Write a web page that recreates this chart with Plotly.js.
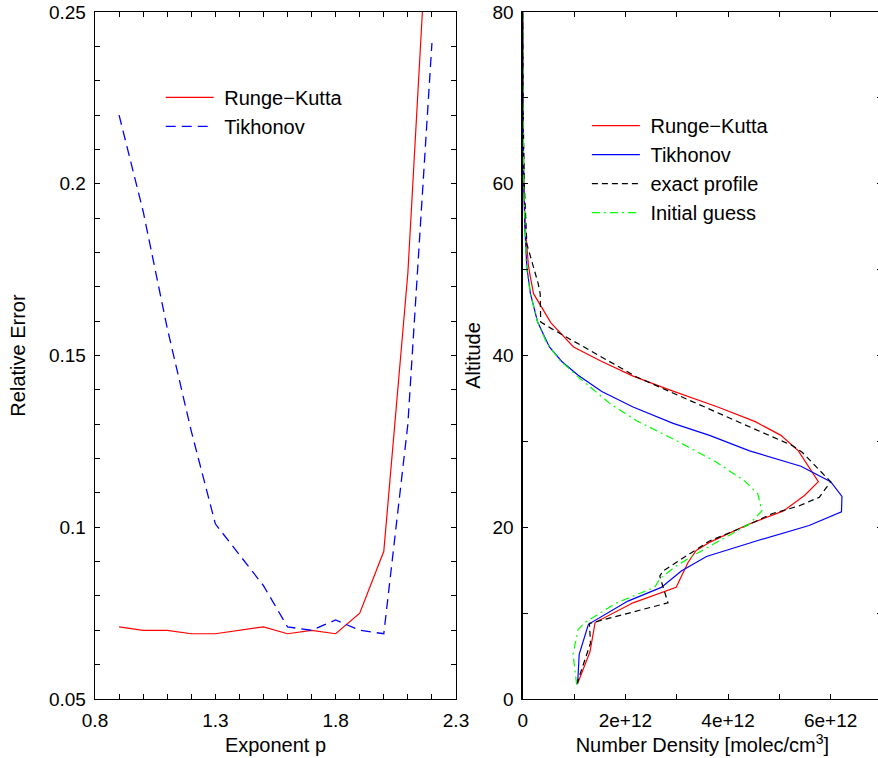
<!DOCTYPE html>
<html>
<head>
<meta charset="utf-8">
<script src="https://cdn.plot.ly/plotly-3.0.1.min.js"></script>
<style>
html, body { margin:0; padding:0; overflow:hidden; background:#fff; }
#chart { width:884px; height:758px; }
</style>
</head>
<body>
<div id="chart"></div>
<script>
// ---- Left panel: relative error vs exponent p ----
const exponentP = [0.9, 1.0, 1.1, 1.2, 1.3, 1.4, 1.5, 1.6, 1.7, 1.8, 1.9, 2.0, 2.1, 2.2];
const errRungeKutta = [0.071, 0.070, 0.070, 0.069, 0.069, 0.070, 0.071, 0.069, 0.070, 0.069, 0.075, 0.093, 0.174, 0.300];
const errTikhonov   = [0.220, 0.192, 0.158, 0.128, 0.101, 0.092, 0.083, 0.071, 0.070, 0.073, 0.070, 0.069, 0.130, 0.241];

// ---- Right panel: number density profiles vs altitude ----
const rkAlt = [1.8, 5.5, 8.9, 11.2, 13.0, 15.9, 17.3, 18.3, 20.4, 21.9, 23.7, 25.3, 28.9, 30.7, 32.3, 34.0, 36.0, 37.6, 39.3, 41.0, 43.8, 47.2, 49.1, 50.5, 55, 60, 70, 80];
const rkDen = [1.07e12, 1.31e12, 1.41e12, 2.15e12, 2.99e12, 3.22e12, 3.38e12, 3.66e12, 4.42e12, 5.08e12, 5.49e12, 5.76e12, 5.37e12, 5.03e12, 4.53e12, 3.80e12, 2.86e12, 2.15e12, 1.54e12, 0.99e12, 0.55e12, 0.21e12, 0.15e12, 0.11e12, 0.05e12, 0.02e12, 0.005e12, 0];

const tkAlt = [1.8, 5.2, 8.7, 11.4, 13.0, 14.9, 16.6, 18.4, 20.2, 21.8, 23.6, 25.3, 27.1, 28.9, 30.7, 32.1, 34.0, 35.8, 37.7, 39.3, 41.0, 43.9, 47.2, 50.3, 55, 60, 70, 80];
const tkDen = [1.07e12, 1.10e12, 1.28e12, 2.05e12, 2.70e12, 3.09e12, 3.58e12, 4.55e12, 5.58e12, 6.21e12, 6.22e12, 6.00e12, 5.42e12, 4.42e12, 3.64e12, 2.93e12, 2.15e12, 1.54e12, 1.08e12, 0.76e12, 0.52e12, 0.29e12, 0.15e12, 0.08e12, 0.04e12, 0.02e12, 0.005e12, 0];

const exAlt = [1.7, 6.5, 8.8, 11.2, 14.3, 14.9, 18.4, 20.0, 21.6, 22.5, 23.5, 25.3, 28.7, 29.5, 31.4, 37.5, 43.1, 43.9, 47.2, 48.4, 53.0, 56.6, 60, 70, 80];
const exDen = [1.05e12, 1.32e12, 1.30e12, 2.83e12, 2.67e12, 2.73e12, 3.64e12, 4.29e12, 4.87e12, 5.39e12, 5.78e12, 6.00e12, 5.45e12, 5.26e12, 4.53e12, 2.22e12, 0.57e12, 0.35e12, 0.34e12, 0.30e12, 0.08e12, 0.05e12, 0.03e12, 0.005e12, 0];

const igAlt = [1.7, 5.2, 8.1, 8.9, 11.2, 13.0, 14.0, 15.5, 16.9, 20.4, 21.9, 23.9, 25.4, 27.6, 30.1, 32.4, 34.4, 37.3, 39.4, 41.4, 43.9, 47.2, 50.3, 55, 60, 70, 80];
const igDen = [1.05e12, 0.98e12, 1.08e12, 1.21e12, 1.83e12, 2.57e12, 2.67e12, 2.99e12, 3.38e12, 4.42e12, 4.66e12, 4.58e12, 4.32e12, 3.77e12, 2.99e12, 2.22e12, 1.70e12, 1.12e12, 0.73e12, 0.47e12, 0.29e12, 0.15e12, 0.07e12, 0.04e12, 0.02e12, 0.005e12, 0];

const densityTickVals = [0, 2e12, 4e12, 6e12];
const densityTickText = ["0", "2e+12", "4e+12", "6e+12"];

const FONT = "Liberation Sans, Arial, Helvetica, sans-serif";
const NB = "\u00a0";

const traces = [
  {x: exponentP, y: errRungeKutta, xaxis:'x', yaxis:'y', mode:'lines', name:NB + 'Runge\u2212Kutta',
   line:{color:'#ff0000', width:1.2}, legend:'legend'},
  {x: exponentP, y: errTikhonov, xaxis:'x', yaxis:'y', mode:'lines', name:NB + 'Tikhonov',
   line:{color:'#0000ff', width:1.3, dash:'10px,6px'}, legend:'legend'},
  {x: rkDen, y: rkAlt, xaxis:'x2', yaxis:'y2', mode:'lines', name:NB + 'Runge\u2212Kutta',
   line:{color:'#ff0000', width:1.2}, legend:'legend2'},
  {x: tkDen, y: tkAlt, xaxis:'x2', yaxis:'y2', mode:'lines', name:NB + 'Tikhonov',
   line:{color:'#0000ff', width:1.2}, legend:'legend2'},
  {x: exDen, y: exAlt, xaxis:'x2', yaxis:'y2', mode:'lines', name:NB + 'exact profile',
   line:{color:'#000000', width:1.2, dash:'6px,4px'}, legend:'legend2'},
  {x: igDen, y: igAlt, xaxis:'x2', yaxis:'y2', mode:'lines', name:NB + 'Initial guess',
   line:{color:'#00ff00', width:1.2, dash:'8px,4px,2px,4px'}, legend:'legend2'}
];

const axisCommon = {
  showline:true, linecolor:'#000', linewidth:1.3, mirror:'allticks',
  ticks:'inside', ticklen:5, tickcolor:'#000', tickwidth:1,
  showgrid:false, zeroline:false,
  tickfont:{family:FONT, size:19, color:'#000'}
};

const layout = {
  width:884, height:758,
  margin:{l:95, r:2, t:12, b:59},
  paper_bgcolor:'#fff', plot_bgcolor:'#fff',
  font:{family:FONT, size:20, color:'#000'},
  xaxis: Object.assign({}, axisCommon, {
    domain:[0, 0.4587], range:[0.8, 2.3], tick0:0.8, dtick:0.5,
    minor:{dtick:0.1, tick0:0.8, ticks:'inside', ticklen:5, tickcolor:'#000'},
    ticklabelstandoff:4,
    title:{text:'Exponent p', font:{family:FONT, size:20, color:'#000'}, standoff:8}
  }),
  yaxis: Object.assign({}, axisCommon, {
    anchor:'x', range:[0.05, 0.25], tick0:0.05, dtick:0.05,
    minor:{dtick:0.01, tick0:0.05, ticks:'inside', ticklen:5, tickcolor:'#000'},
    ticklabelstandoff:4,
    title:{text:'Relative Error', font:{family:FONT, size:20, color:'#000'}, standoff:18}
  }),
  xaxis2: Object.assign({}, axisCommon, {
    domain:[0.5435, 1], anchor:'y2', range:[0, 7e12],
    tickmode:'array', tickvals:densityTickVals, ticktext:densityTickText,
    minor:{dtick:1e12, tick0:0, ticks:'inside', ticklen:5, tickcolor:'#000'},
    ticklabelstandoff:4,
    title:{text:'Number Density [molec/cm<sup>3</sup>]', font:{family:FONT, size:20, color:'#000'}, standoff:8}
  }),
  yaxis2: Object.assign({}, axisCommon, {
    anchor:'x2', range:[0, 80], tick0:0, dtick:20,
    minor:{dtick:10, tick0:0, ticks:'inside', ticklen:5, tickcolor:'#000'},
    ticklabelstandoff:4,
    title:{text:'Altitude', font:{family:FONT, size:20, color:'#000'}, standoff:6}
  }),
  legend:{x:0.0835, y:0.904, xanchor:'left', yanchor:'top', bgcolor:'rgba(0,0,0,0)',
          font:{family:FONT, size:20, color:'#000'}, itemwidth:48, tracegroupgap:0},
  legend2:{x:0.625, y:0.863, xanchor:'left', yanchor:'top', bgcolor:'rgba(0,0,0,0)',
          font:{family:FONT, size:20, color:'#000'}, itemwidth:48, tracegroupgap:0},
  showlegend:true
};

Plotly.newPlot('chart', traces, layout, {displayModeBar:false, staticPlot:true});
</script>
</body>
</html>
